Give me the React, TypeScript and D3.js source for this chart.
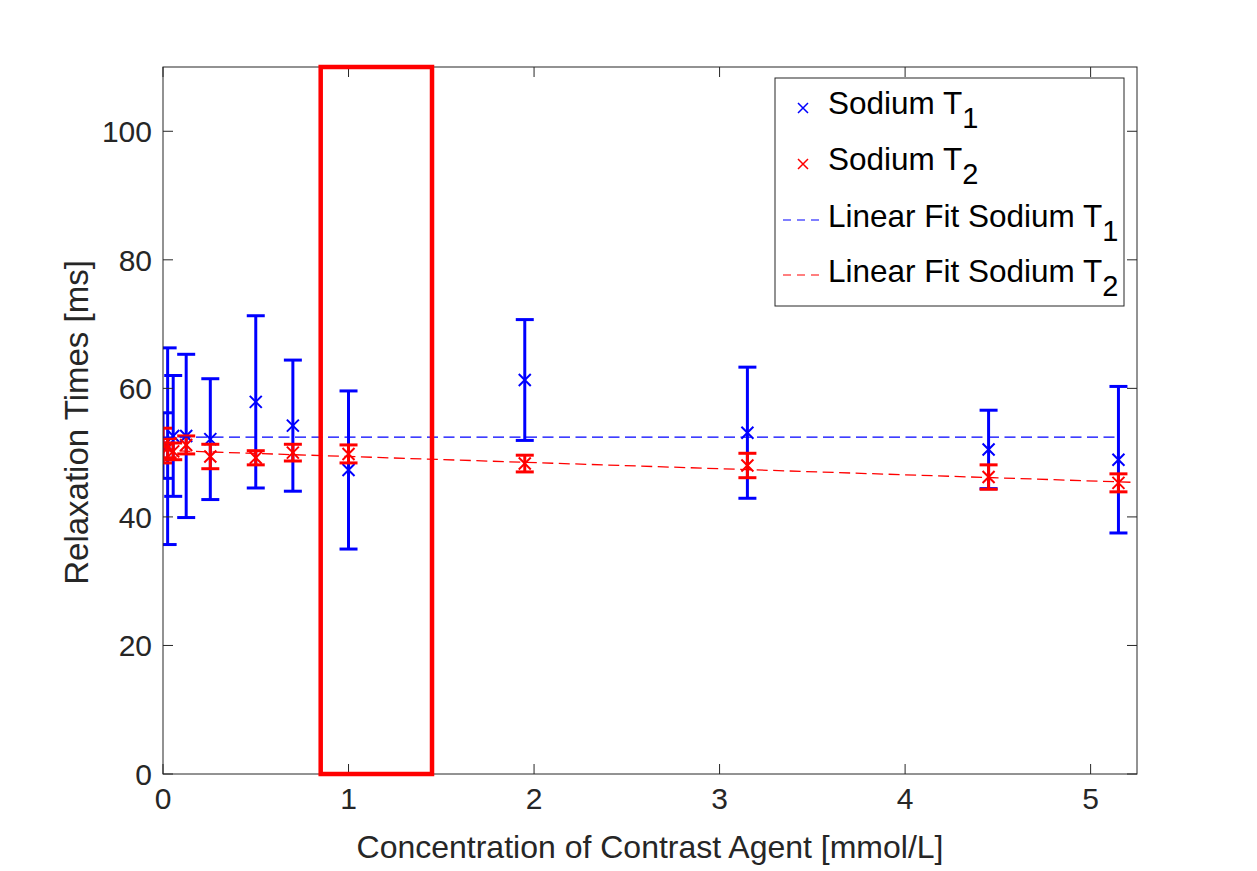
import * as d3 from "d3";

// concentration of contrast agent [mmol/L]
const conc = [0, 0.025, 0.055, 0.125, 0.255, 0.5, 0.7, 1.0, 1.95, 3.15, 4.45, 5.15];

// sodium T1 [ms] and its error
const t1 = [51.1, 51.0, 52.6, 52.6, 52.1, 57.9, 54.2, 47.3, 61.3, 53.1, 50.5, 48.9];
const t1Err = [5.1, 15.3, 9.4, 12.7, 9.4, 13.4, 10.2, 12.3, 9.4, 10.2, 6.1, 11.4];

// sodium T2 [ms] and its error
const t2 = [51.1, 50.7, 50.2, 51.2, 49.4, 49.2, 50.0, 49.8, 48.3, 48.0, 46.2, 45.3];
const t2Err = [2.7, 1.5, 1.3, 1.4, 1.9, 1.1, 1.3, 1.4, 1.3, 1.9, 1.9, 1.4];

// linear fits: [x start, x end], intercept, slope
const fitT1 = { range: [0, 5.15], b: 52.4, m: 0 };
const fitT2 = { range: [0, 5.23], b: 50.35, m: -0.95 };

// highlighted region (red box)
const boxX = [0.85, 1.45];
const boxY = [0, 110];

const xTicks = [0, 1, 2, 3, 4, 5];
const yTicks = [0, 20, 40, 60, 80, 100];

const legendLabels = ["Sodium T", "Sodium T", "Linear Fit Sodium T", "Linear Fit Sodium T"];
const legendSubs = ["1", "2", "1", "2"];

const W = 1257;
const H = 871;
const margin = { left: 163, top: 67, right: 120, bottom: 97 };

const BLUE = "#0000ff";
const RED = "#ff0000";
const INK = "#262626";
const FONT = "'Liberation Sans', Arial, Helvetica, sans-serif";

function Cross({ x, y, r, color, w }: { x: number; y: number; r: number; color: string; w: number }) {
  return (
    <path
      d={`M${x - r},${y - r}L${x + r},${y + r}M${x - r},${y + r}L${x + r},${y - r}`}
      stroke={color}
      strokeWidth={w}
      fill="none"
    />
  );
}

function ErrorBars({ xs, ys, es, color, xScale, yScale }: any) {
  const cap = 9;
  return (
    <g>
      {xs.map((xv: number, i: number) => {
        const px = xScale(xv);
        const top = yScale(ys[i] + es[i]);
        const bot = yScale(ys[i] - es[i]);
        return (
          <g key={i}>
            <line x1={px} x2={px} y1={top} y2={bot} stroke={color} strokeWidth={3} />
            <line x1={px - cap} x2={px + cap} y1={top} y2={top} stroke={color} strokeWidth={3} />
            <line x1={px - cap} x2={px + cap} y1={bot} y2={bot} stroke={color} strokeWidth={3} />
            <Cross x={px} y={yScale(ys[i])} r={6} color={color} w={2} />
          </g>
        );
      })}
    </g>
  );
}

export default function App() {
  const innerW = W - margin.left - margin.right;
  const innerH = H - margin.top - margin.bottom;
  const x0 = margin.left;
  const y0 = margin.top;

  const xScale = d3.scaleLinear().domain([0, 5.25]).range([x0, x0 + innerW]);
  const yScale = d3.scaleLinear().domain([0, 110]).range([y0 + innerH, y0]);

  const fitLine = (f: { range: number[]; b: number; m: number }) =>
    d3
      .line<number>()
      .x((d) => xScale(d))
      .y((d) => yScale(f.b + f.m * d))(f.range) || "";

  const tickLen = 10;
  const legX = 775;
  const legY = 78;
  const rowY = [114, 170, 227, 282];

  return (
    <div style={{ position: "absolute", left: 0, top: 0 }}>
      <svg width={W} height={H} style={{ display: "block", background: "#fff" }} fontFamily={FONT}>
        <defs>
          <clipPath id="plot">
            <rect x={x0} y={y0} width={innerW} height={innerH} />
          </clipPath>
        </defs>

        <g clipPath="url(#plot)">
          <ErrorBars xs={conc} ys={t1} es={t1Err} color={BLUE} xScale={xScale} yScale={yScale} />
          <ErrorBars xs={conc} ys={t2} es={t2Err} color={RED} xScale={xScale} yScale={yScale} />
          <path d={fitLine(fitT1)} stroke={BLUE} strokeWidth={1.3} strokeDasharray="11,5.5" fill="none" />
          <path d={fitLine(fitT2)} stroke={RED} strokeWidth={1.3} strokeDasharray="11,5.5" fill="none" />
        </g>

        {/* axes box */}
        <rect x={x0} y={y0} width={innerW} height={innerH} fill="none" stroke={INK} strokeWidth={1} />

        {xTicks.map((t) => (
          <g key={"x" + t}>
            <line x1={xScale(t)} x2={xScale(t)} y1={y0 + innerH} y2={y0 + innerH - tickLen} stroke={INK} />
            <line x1={xScale(t)} x2={xScale(t)} y1={y0} y2={y0 + tickLen} stroke={INK} />
            <text x={xScale(t)} y={y0 + innerH + 35} textAnchor="middle" fontSize={30} fill={INK}>
              {t}
            </text>
          </g>
        ))}
        {yTicks.map((t) => (
          <g key={"y" + t}>
            <line x1={x0} x2={x0 + tickLen} y1={yScale(t)} y2={yScale(t)} stroke={INK} />
            <line x1={x0 + innerW} x2={x0 + innerW - tickLen} y1={yScale(t)} y2={yScale(t)} stroke={INK} />
            <text x={x0 - 11} y={yScale(t) + 11} textAnchor="end" fontSize={30} fill={INK}>
              {t}
            </text>
          </g>
        ))}

        <text x={x0 + innerW / 2} y={858} textAnchor="middle" fontSize={32} fill={INK}>
          Concentration of Contrast Agent [mmol/L]
        </text>
        <text
          transform={`translate(88,${(y0 + y0 + innerH) / 2 + 2}) rotate(-90)`}
          textAnchor="middle"
          fontSize={33}
          fill={INK}
        >
          Relaxation Times [ms]
        </text>

        {/* red highlight box */}
        <rect
          x={xScale(boxX[0])}
          y={yScale(boxY[1])}
          width={xScale(boxX[1]) - xScale(boxX[0])}
          height={yScale(boxY[0]) - yScale(boxY[1])}
          fill="none"
          stroke={RED}
          strokeWidth={4.5}
        />

        {/* legend */}
        <rect x={legX} y={legY} width={349} height={228} fill="#fff" stroke={INK} strokeWidth={1} />
        <Cross x={803} y={rowY[0] - 6} r={5} color={BLUE} w={1.5} />
        <Cross x={803} y={rowY[1] - 6} r={5} color={RED} w={1.5} />
        <line x1={783} x2={823} y1={rowY[2] - 7} y2={rowY[2] - 7} stroke={BLUE} strokeWidth={1.2} strokeDasharray="8,6" />
        <line x1={783} x2={823} y1={rowY[3] - 7} y2={rowY[3] - 7} stroke={RED} strokeWidth={1.2} strokeDasharray="8,6" />
        {legendLabels.map((s, i) => (
          <text key={i} x={828} y={rowY[i]} fontSize={31.5} fill="#000">
            {s}
            <tspan dy={14} fontSize={29}>
              {legendSubs[i]}
            </tspan>
          </text>
        ))}
      </svg>
    </div>
  );
}
